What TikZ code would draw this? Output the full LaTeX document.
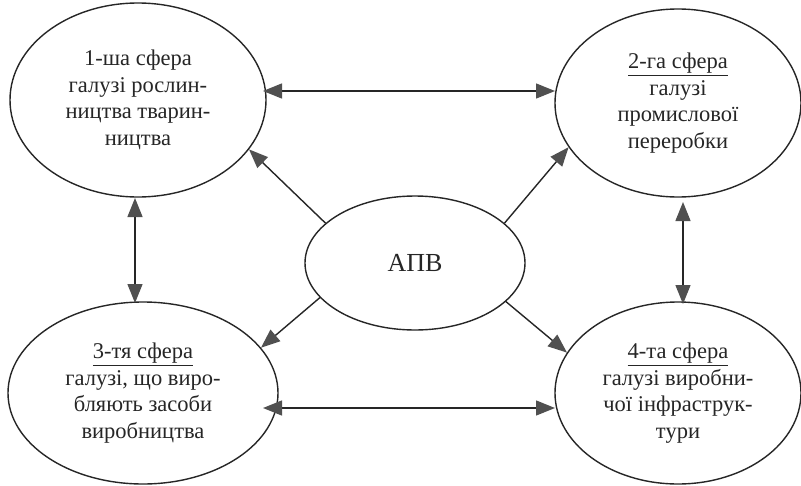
\documentclass[tikz,border=0pt]{standalone}
\usepackage{fontspec}
\setmainfont{Liberation Serif}
\usetikzlibrary{shapes.geometric,arrows.meta}
\definecolor{ink}{HTML}{262626}
\definecolor{tipc}{HTML}{505050}
\tikzset{
  x=1pt,y=1pt,
  sphere/.style={ellipse,draw=ink,line width=1.4pt,inner sep=0pt,align=center,
    font=\fontsize{22.5}{26.5}\selectfont,text=ink},
  onearrow/.style={draw=ink,line width=1.4pt,-{Triangle[length=19pt,width=15pt,color=tipc]}},
  twoarrow/.style={draw=ink,line width=1.4pt,{Triangle[length=19pt,width=15pt,color=tipc]}-{Triangle[length=19pt,width=15pt,color=tipc]}}
}
\begin{document}
\begin{tikzpicture}
\useasboundingbox (0,0) rectangle (801,-485);
\fill[white] (0,0) rectangle (801,-485);
\node[sphere,minimum width=256,minimum height=194] (e1) at (138,-100)
  {1-ша сфера\\галузі рослин-\\ництва тварин-\\ництва};
\node[sphere,minimum width=246,minimum height=188] (e2) at (678,-103)
  {\underline{2-га сфера}\\галузі\\промислової\\переробки};
\node[sphere,minimum width=270,minimum height=182] (e3) at (143,-393)
  {\underline{3-тя сфера}\\галузі, що виро-\\бляють засоби\\виробництва};
\node[sphere,minimum width=246,minimum height=182] (e4) at (678,-393)
  {\underline{4-та сфера}\\галузі виробни-\\чої інфраструк-\\тури};
\node[sphere,minimum width=220,minimum height=134,font=\fontsize{26}{30}\selectfont] (apv) at (415,-263) {АПВ};
% horizontal double arrows
\coordinate (t1) at (263,-91);
\coordinate (t2) at (555,-91);
\coordinate (b1) at (263,-408);
\coordinate (b2) at (555,-408);
\draw[twoarrow] (t1) -- (t2);
\draw[twoarrow] (b1) -- (b2);
% vertical double arrows
\coordinate (l1) at (135,-198);
\coordinate (l2) at (135,-303);
\coordinate (r1) at (683,-202);
\coordinate (r2) at (683,-304);
\draw[twoarrow] (l1) -- (l2);
\draw[twoarrow] (r1) -- (r2);
% diagonal arrows from centre
\draw[onearrow] (apv.156) -- (e1.-24);
\draw[onearrow] (apv.24) -- (e2.202);
\draw[onearrow] (apv.200) -- (e3.21);
\draw[onearrow] (apv.337) -- (e4.160);
\end{tikzpicture}
\end{document}
